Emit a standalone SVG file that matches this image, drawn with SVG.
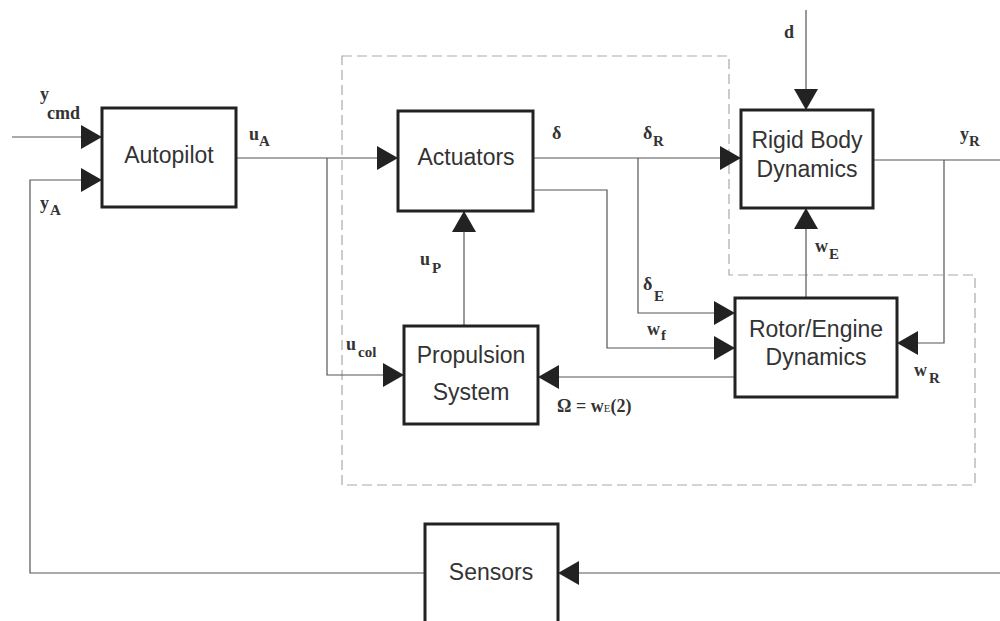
<svg xmlns="http://www.w3.org/2000/svg" width="1000" height="621" viewBox="0 0 1000 621">
<style>
.box{fill:#fff;stroke:#222;stroke-width:3}
.bl{font-family:"Liberation Sans",Arial,sans-serif;font-size:23px;fill:#333;text-anchor:middle}
.m{font-family:"Liberation Serif","Times New Roman",serif;font-weight:bold;font-size:18px;fill:#333}
.s{font-size:15px}
.c{fill:none;stroke:#555;stroke-width:1.2}
.dash{fill:none;stroke:#aaa;stroke-width:1.2;stroke-dasharray:10 5}
</style>
<defs>
<marker id="ah" markerUnits="userSpaceOnUse" markerWidth="22" markerHeight="24" refX="20" refY="12" orient="auto">
<path d="M0,0 L21,12 L0,24 Z" fill="#222"/>
</marker>
</defs>
<rect width="1000" height="621" fill="#fff"/>
<path class="dash" d="M342,56 H729 V275 H975 V485 H342 Z"/>
<g id="connectors">
<path class="c" d="M12,137 H101" marker-end="url(#ah)"/>
<path class="c" d="M425,573 H30 V180 H101" marker-end="url(#ah)"/>
<path class="c" d="M237,158 H397" marker-end="url(#ah)"/>
<path class="c" d="M327,158 V375 H403" marker-end="url(#ah)"/>
<path class="c" d="M534,158 H740" marker-end="url(#ah)"/>
<path class="c" d="M638,158 V313 H734" marker-end="url(#ah)"/>
<path class="c" d="M534,190 H607 V348 H734" marker-end="url(#ah)"/>
<path class="c" d="M464,326 V212" marker-end="url(#ah)"/>
<path class="c" d="M806,10 V109" marker-end="url(#ah)"/>
<path class="c" d="M806,297 V209" marker-end="url(#ah)"/>
<path class="c" d="M874,160 H1000"/>
<path class="c" d="M944,160 V343 H898" marker-end="url(#ah)"/>
<path class="c" d="M734,377 H539" marker-end="url(#ah)"/>
<path class="c" d="M1000,573 H559" marker-end="url(#ah)"/>
</g>
<g id="autopilot"><rect class="box" x="102" y="108" width="134" height="99"/><text class="bl" x="169" y="163">Autopilot</text></g>
<g id="actuators"><rect class="box" x="398" y="111" width="135" height="100"/><text class="bl" x="466" y="165">Actuators</text></g>
<g id="rigid-body"><rect class="box" x="741" y="110" width="132" height="98"/><text class="bl" x="807" y="148">Rigid Body</text><text class="bl" x="807" y="177">Dynamics</text></g>
<g id="rotor-engine"><rect class="box" x="735" y="298" width="162" height="99"/><text class="bl" x="816" y="337">Rotor/Engine</text><text class="bl" x="816" y="365">Dynamics</text></g>
<g id="propulsion"><rect class="box" x="404" y="326" width="134" height="98"/><text class="bl" x="471" y="363">Propulsion</text><text class="bl" x="471" y="400">System</text></g>
<g id="sensors"><rect class="box" x="425" y="524" width="133" height="110"/><text class="bl" x="491" y="580">Sensors</text></g>
<g id="labels">
<text class="m" x="40" y="100">y</text><text class="m" x="47" y="119">cmd</text>
<text class="m" x="40" y="209">y</text><text class="m s" x="50" y="215">A</text>
<text class="m" x="249" y="140">u</text><text class="m s" x="259" y="146">A</text>
<text class="m" x="552" y="139">δ</text>
<text class="m" x="643" y="139">δ</text><text class="m s" x="653" y="146">R</text>
<text class="m" x="960" y="140">y</text><text class="m s" x="969" y="146">R</text>
<text class="m" x="784" y="38">d</text>
<text class="m" x="815" y="252">w</text><text class="m s" x="829" y="259">E</text>
<text class="m" x="643" y="290">δ</text><text class="m s" x="654" y="301">E</text>
<text class="m" x="647" y="335">w</text><text class="m s" x="661" y="340" font-weight="normal">f</text>
<text class="m" x="346" y="350">u</text><text class="m s" x="358" y="357" font-weight="normal">col</text>
<text class="m" x="420" y="265">u</text><text class="m s" x="432" y="273" font-weight="normal">P</text>
<text class="m" x="914" y="376">w</text><text class="m s" x="929" y="383">R</text>
<text class="m" x="557" y="412">Ω = w<tspan font-size="11" font-weight="normal">E</tspan>(2)</text>
</g>
</svg>
